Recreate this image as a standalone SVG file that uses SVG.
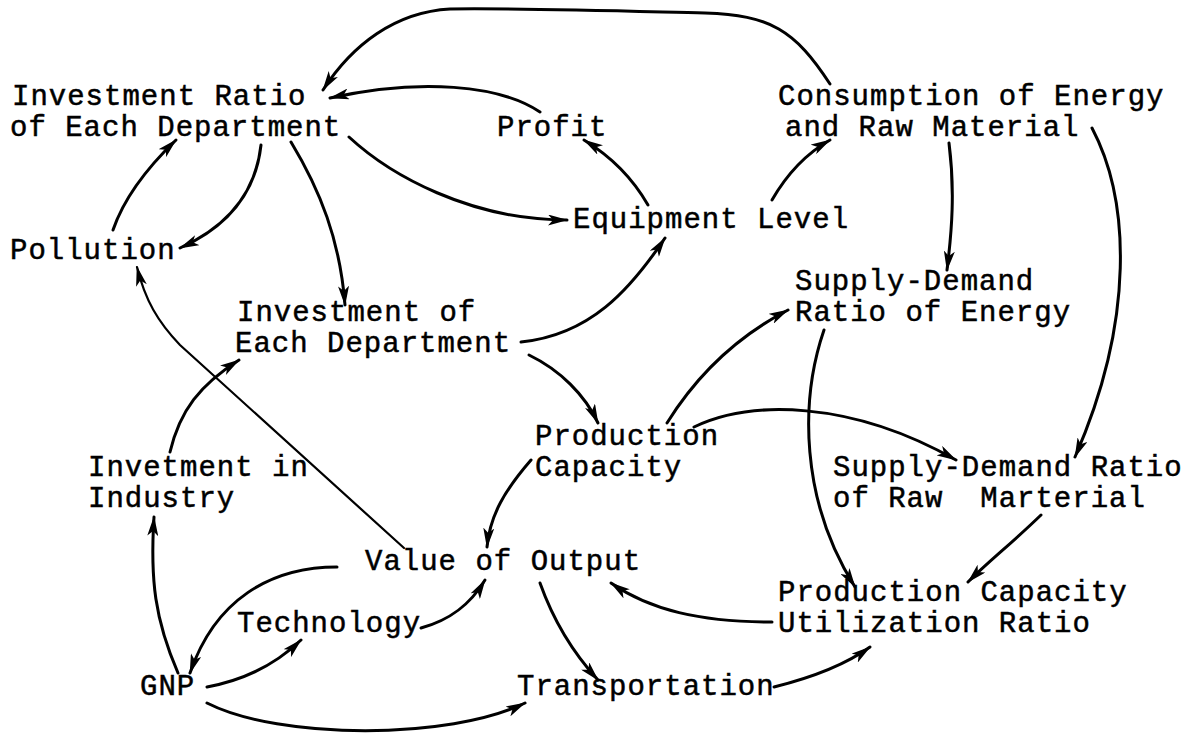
<svg xmlns="http://www.w3.org/2000/svg" width="1198" height="734" viewBox="0 0 1198 734">
<style>
text{font-family:"Liberation Mono","DejaVu Sans Mono",monospace;font-size:29px;letter-spacing:1px;fill:#000;stroke:#000;stroke-width:0.5px}
.c path{fill:none;stroke:#000;stroke-width:3;stroke-linecap:round;marker-end:url(#ah)}
.c path.thin{stroke-width:2.2}
</style>
<defs>
<marker id="ah" viewBox="0 0 20 11" refX="19" refY="5.5" markerWidth="20" markerHeight="11" markerUnits="userSpaceOnUse" orient="auto">
<path d="M0,0 L20,5.5 L0,11 L5,5.5 z" fill="#000"/>
</marker>
</defs>
<rect width="1198" height="734" fill="#fff"/>
<g class="c" id="connectors">
<path d="M830,84 C795,30 770,15 705,13 C620,11 520,8 450,9 C395,12 352,45 323,90"/>
<path d="M540,112 C500,85 420,78 330,98"/>
<path d="M648,205 Q625,165 584,140"/>
<path d="M772,200 Q795,160 830,140"/>
<path d="M349,137 C390,175 470,220 567,220"/>
<path d="M261,145 C255,200 220,230 180,248"/>
<path d="M113,230 C125,195 150,165 176,140"/>
<path d="M291,142 C320,190 340,240 345,305"/>
<path class="thin" d="M404,548 L180,345 C158,322 145,300 137,267"/>
<path d="M170,452 C180,410 200,385 239,360"/>
<path d="M521,342 C590,335 630,290 665,238"/>
<path d="M529,355 C560,370 585,395 598,423"/>
<path d="M531,460 C505,490 490,515 487,547"/>
<path d="M337,567 C270,567 215,600 190,673"/>
<path d="M421,628 C450,620 470,605 485,580"/>
<path d="M207,687 C245,680 275,665 301,640"/>
<path d="M178,673 C155,620 150,580 154,517"/>
<path d="M207,703 C280,740 450,740 525,703"/>
<path d="M540,583 C555,625 575,655 598,680"/>
<path d="M774,687 C810,678 845,665 870,647"/>
<path d="M772,622 C700,622 650,610 611,583"/>
<path d="M667,423 C700,370 740,335 788,310"/>
<path d="M694,427 C750,400 850,400 956,460"/>
<path d="M824,330 C800,400 800,500 855,587"/>
<path d="M1041,515 C1010,545 990,560 968,582"/>
<path d="M949,143 C955,190 952,230 947,270"/>
<path d="M1092,128 C1130,200 1135,320 1075,457"/>
</g>
<g id="investment-ratio"><text x="12" y="105">Investment Ratio</text><text x="10" y="136">of Each Department</text></g>
<g id="profit"><text x="497" y="136">Profit</text></g>
<g id="consumption"><text x="778" y="105">Consumption of Energy</text><text x="785" y="136">and Raw Material</text></g>
<g id="equipment-level"><text x="573" y="228">Equipment Level</text></g>
<g id="pollution"><text x="10" y="259">Pollution</text></g>
<g id="sd-energy"><text x="795" y="290">Supply-Demand</text><text x="795" y="321">Ratio of Energy</text></g>
<g id="investment-dept"><text x="237" y="321">Investment of</text><text x="235" y="352">Each Department</text></g>
<g id="production-capacity"><text x="535" y="445">Production</text><text x="535" y="476">Capacity</text></g>
<g id="investment-industry"><text x="88" y="476">Invetment in</text><text x="88" y="507">Industry</text></g>
<g id="sd-raw"><text x="833" y="476">Supply-Demand Ratio</text><text x="833" y="507" xml:space="preserve">of Raw  Marterial</text></g>
<g id="value-output"><text x="365" y="570">Value of Output</text></g>
<g id="utilization"><text x="778" y="601">Production Capacity</text><text x="778" y="632">Utilization Ratio</text></g>
<g id="technology"><text x="237" y="632">Technology</text></g>
<g id="gnp"><text x="140" y="695">GNP</text></g>
<g id="transportation"><text x="517" y="695">Transportation</text></g>
</svg>
